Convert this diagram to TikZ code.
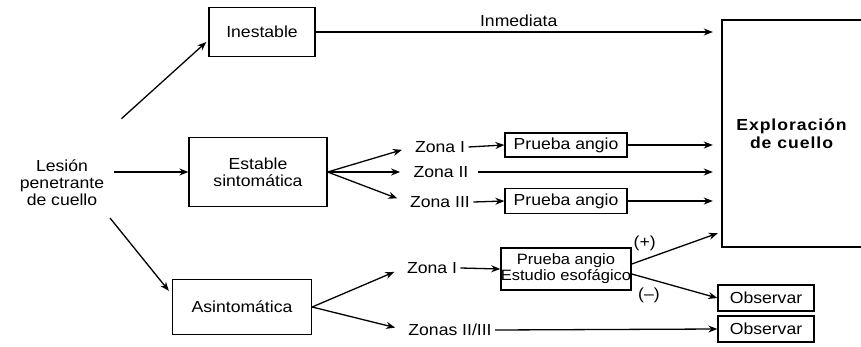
\documentclass[tikz,border=0pt]{standalone}
\usepackage{fontspec}
\setmainfont{Liberation Sans}[FakeStretch=1.1]
\usetikzlibrary{arrows.meta,calc}
\begin{document}
\begin{tikzpicture}[x=1pt,y=1pt,
		every node/.style={font=\fontsize{16}{17}\selectfont},
		box/.style={draw,line width=1.3,inner sep=0pt,align=center},
		arr/.style={line width=1.3,-{Stealth[length=9pt,width=7pt]}},
		branch/.style={arr,shorten >=10pt}]
		\useasboundingbox (0,0) rectangle (861,346);
		\coordinate (s1) at (120,226);
		\coordinate (s3) at (110,128);
		\node [align=center] (les) at (62,163) {Lesión\\penetrante\\de cuello};
		\node [box,minimum width=106,minimum height=49] (inest) at (262,314) {Inestable};
		\node [box,minimum width=138,minimum height=69] (est) at (258,174) {Estable\\sintomática};
		\node [box,minimum width=139,minimum height=55] (asint) at (242,39) {Asintomática};
		\node [minimum width=139,minimum height=227,align=center,font=\fontsize{16}{18}\selectfont\bfseries\addfontfeature{LetterSpace=6}] (expl) at (791.5,212.5) {Exploración\\de cuello};
		\draw [line width=1.5] (expl.north east) -- (expl.north west) -- (expl.south west) -- (expl.south east);
		\node (z1) at (440,199) {Zona I};
		\node (z2) at (441,174) {Zona II};
		\node (z3) at (440,144) {Zona III};
		\node [box,minimum width=122,minimum height=24] (pa1) at (566,201) {Prueba angio};
		\node [box,minimum width=122,minimum height=25] (pa3) at (566,145) {Prueba angio};
		\node (z1b) at (432,78) {Zona I};
		\node (z23) at (450,16) {Zonas II/III};
		\node [box,minimum width=121,minimum height=42,font=\fontsize{15}{16}\selectfont] (pae) at (566,77) {Prueba angio\\Estudio esofágico};
		\node [box,minimum width=96,minimum height=26] (obs1) at (766,48) {Observar};
		\node [box,minimum width=96,minimum height=26] (obs2) at (766,17) {Observar};
		\coordinate (plus) at ($(expl.south west)+(-4,14)$);
		% entrada
		\draw [arr,shorten <=2pt] (s1) -- ($(inest.west)+(-2,-10)$);
		\draw [arr,shorten <=6pt] (est.west -| les.east) -- (est.west);
		\draw [arr] (s3) -- ($(asint.north west)+(-3,-12)$);
		% inestable
		\draw [arr,shorten >=9pt] (inest.east) -- (inest.east -| expl.west) node [midway,above=1pt] {Inmediata};
		% estable sintomatica
		\draw [branch] (est.east) -- (z1.west);
		\draw [branch] (est.east) -- (z2.west);
		\draw [branch] (est.east) -- (z3.west);
		\draw [arr] (z1.east) -- (pa1.west);
		\draw [arr] (z3.east) -- (pa3.west);
		\draw [arr,shorten >=9pt,shorten <=6pt] (z2.east) -- (z2.east -| expl.west);
		\draw [arr,shorten >=9pt] (pa1.east) -- (pa1.east -| expl.west);
		\draw [arr,shorten >=9pt] (pa3.east) -- (pa3.east -| expl.west);
		% asintomatica
		\draw [branch] (asint.east) -- (z1b.west);
		\draw [branch] (asint.east) -- (z23.west);
		\draw [arr] (z1b.east) -- (pae.west);
		\draw [arr] ($(pae.east)+(0,5)$) -- (plus) node [pos=0.15,above=5pt] {(+)};
		\draw [arr] ($(pae.east)+(0,-5)$) -- (obs1.west) node [pos=0.2,below=5pt] {(--)};
		\draw [arr] (z23.east) -- (obs2.west);
	\end{tikzpicture}
\end{document}
